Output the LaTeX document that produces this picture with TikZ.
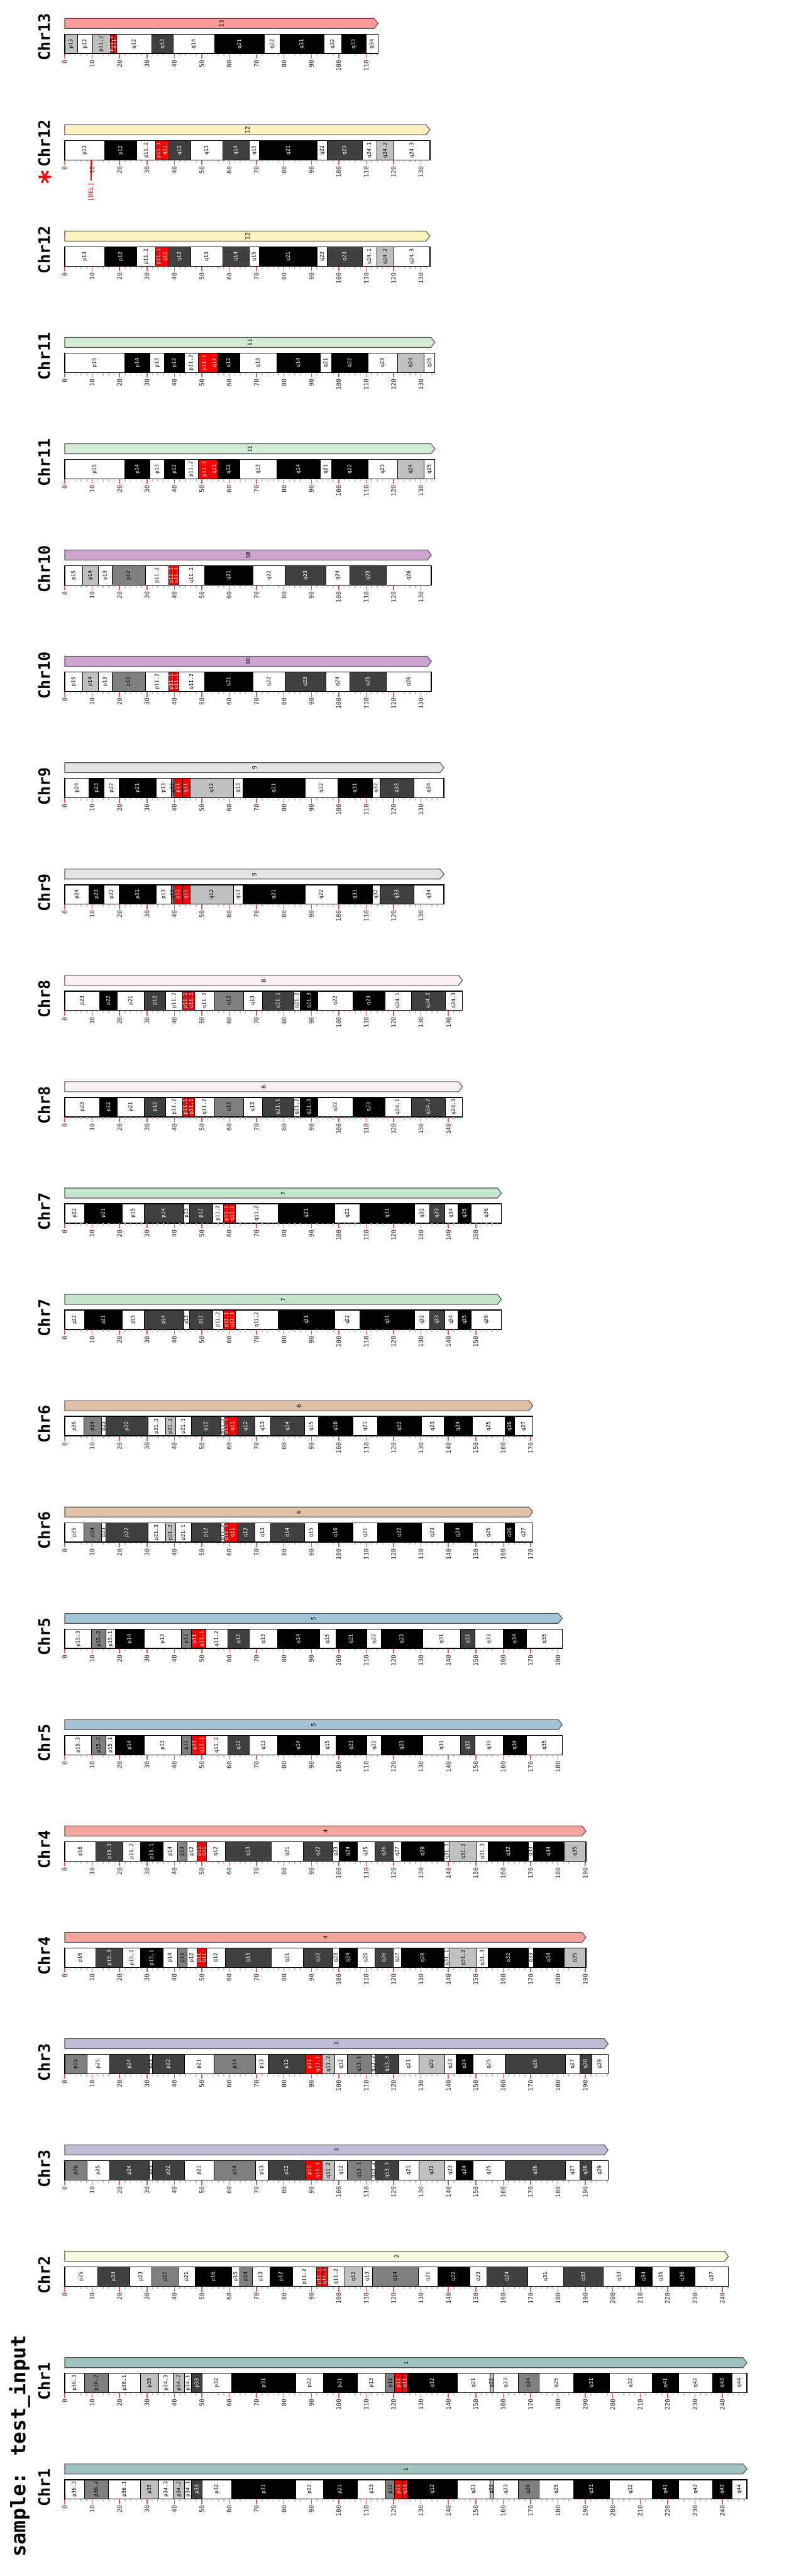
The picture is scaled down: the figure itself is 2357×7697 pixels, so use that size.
\documentclass[tikz,border=0pt]{standalone}
\usepackage{fontspec}
\setmainfont{DejaVu Sans Mono}
\definecolor{bw}{HTML}{FFFFFF}
\definecolor{bl}{HTML}{C0C0C0}
\definecolor{bg}{HTML}{808080}
\definecolor{bd}{HTML}{404040}
\definecolor{bk}{HTML}{000000}
\definecolor{br}{HTML}{FF0000}
\colorlet{tw}{black}\colorlet{tl}{black}\colorlet{tg}{black}
\colorlet{td}{white}\colorlet{tk}{white}\colorlet{tr}{white}
\definecolor{c1}{HTML}{9EC4BF}
\definecolor{c2}{HTML}{F9F9E0}
\definecolor{c3}{HTML}{BEBBD5}
\definecolor{c4}{HTML}{F4A49C}
\definecolor{c5}{HTML}{A5C3D7}
\definecolor{c6}{HTML}{E2C2A6}
\definecolor{c7}{HTML}{C3E5CC}
\definecolor{c8}{HTML}{FBF0F5}
\definecolor{c9}{HTML}{E3E3E3}
\definecolor{c10}{HTML}{CCA4CF}
\definecolor{c11}{HTML}{D5ECD6}
\definecolor{c12}{HTML}{FDF1BF}
\definecolor{c13}{HTML}{FA9A99}
\definecolor{baredge}{HTML}{505050}
\definecolor{tickgray}{HTML}{C4C4C4}
\definecolor{tickred}{HTML}{F05555}
\tikzset{
 barline/.style={draw=baredge, line width=1pt, line join=miter},
 barlab/.style={rotate=90, inner sep=0pt, font=\fontsize{8.5}{8.5}\selectfont},
 bandlab/.style={rotate=90, inner sep=0pt, font=\fontsize{7.75}{7.75}\selectfont},
 ticklab/.style={rotate=90, anchor=east, inner sep=0pt, font=\fontsize{9.25}{9.25}\selectfont, text=black!85},
 chrlab/.style={rotate=90, anchor=base west, inner sep=0pt, font=\bfseries\fontsize{23.5}{23.5}\selectfont},
 minortick/.style={draw=tickgray, line width=1.4pt},
 majortick/.style={draw=tickred, line width=1.4pt},
 bandsep/.style={draw=black, line width=0.8pt},
 boxline/.style={draw=black, line width=1.3pt},
}
\def\bandsI{0/7.1/w/p36.3,7.1/15.9/g/p36.2,15.9/27.6/w/p36.1,27.6/34.3/l/p35,34.3/39.6/w/p34.3,39.6/43.7/l/p34.2,43.7/46.3/w/p34.1,46.3/50.2/d/p33,50.2/60.8/w/p32,60.8/84.4/k/p31,84.4/94.3/w/p22,94.3/106.7/k/p21,106.7/117.2/w/p13,117.2/120.4/g/p12,120.4/123.4/r/p11,123.4/125.1/r/q11,125.1/143.2/k/q12,143.2/155.1/w/q21,155.1/156.6/l/q22,156.6/165.5/w/q23,165.5/173.0/g/q24,173.0/185.8/w/q25,185.8/198.7/k/q31,198.7/214.4/w/q32,214.4/224.1/k/q41,224.1/236.4/w/q42,236.4/243.5/k/q43,243.5/248.96/w/q44}
\def\bandsII{0/12.0/w/p25,12.0/23.8/d/p24,23.8/31.8/w/p23,31.8/41.5/g/p22,41.5/47.5/w/p21,47.5/61.0/k/p16,61.0/63.9/w/p15,63.9/68.4/g/p14,68.4/74.8/w/p13,74.8/83.1/k/p12,83.1/91.8/w/p11.2,91.8/93.9/r/p11.1,93.9/96.0/r/q11.1,96.0/102.1/w/q11.2,102.1/108.7/l/q12,108.7/112.2/w/q13,112.2/129.1/g/q14,129.1/136.1/w/q21,136.1/147.9/k/q22,147.9/154.0/w/q23,154.0/168.9/d/q24,168.9/182.1/w/q31,182.1/196.6/d/q32,196.6/208.2/w/q33,208.2/214.5/k/q34,214.5/220.7/w/q35,220.7/230.1/k/q36,230.1/242.19/w/q37}
\def\bandsIII{0/8.1/g/p26,8.1/16.3/w/p25,16.3/30.8/d/p24,30.8/32.0/w/p23,32.0/43.6/d/p22,43.6/54.4/w/p21,54.4/69.7/g/p14,69.7/74.1/w/p13,74.1/87.8/d/p12,87.8/90.9/r/p11,90.9/94.0/r/q11.1,94.0/98.6/l/q11.2,98.6/103.1/w/q12,103.1/111.8/g/q13.1,111.8/113.5/w/q13.2,113.5/121.9/d/q13.3,121.9/129.2/w/q21,129.2/138.7/l/q22,138.7/142.8/w/q23,142.8/148.9/k/q24,148.9/160.7/w/q25,160.7/182.7/d/q26,182.7/187.9/w/q27,187.9/192.3/d/q28,192.3/198.3/w/q29}
\def\bandsIV{0/11.3/w/p16,11.3/21.3/d/p15.3,21.3/27.7/w/p15.2,27.7/35.8/k/p15.1,35.8/41.2/w/p14,41.2/44.6/g/p13,44.6/48.2/w/p12,48.2/50.0/r/p11,50.0/51.8/r/q11,51.8/58.5/w/q12,58.5/75.3/d/q13,75.3/87.1/w/q21,87.1/97.9/d/q22,97.9/100.1/w/q23,100.1/106.7/k/q24,106.7/113.2/w/q25,113.2/119.9/d/q26,119.9/122.8/w/q27,122.8/138.5/k/q28,138.5/140.6/w/q31.1,140.6/150.3/l/q31.2,150.3/154.6/w/q31.3,154.6/169.2/k/q32,169.2/171.0/w/q33,171.0/182.3/k/q34,182.3/190.21/l/q35}
\def\bandsV{0/9.8/w/p15.3,9.8/15.0/g/p15.2,15.0/18.4/w/p15.1,18.4/28.9/k/p14,28.9/42.5/w/p13,42.5/46.1/g/p12,46.1/48.8/r/p11,48.8/51.4/r/q11.1,51.4/59.6/w/q11.2,59.6/67.4/d/q12,67.4/77.6/w/q13,77.6/93.0/k/q14,93.0/98.9/w/q15,98.9/110.2/k/q21,110.2/115.6/w/q22,115.6/130.6/k/q23,130.6/144.5/w/q31,144.5/149.8/d/q32,149.8/159.9/w/q33,159.9/168.5/k/q34,168.5/181.54/w/q35}
\def\bandsVI{0/7.0/w/p25,7.0/13.4/g/p24,13.4/15.1/w/p23,15.1/30.3/d/p22,30.3/36.7/w/p21.3,36.7/40.5/l/p21.2,40.5/46.1/w/p21.1,46.1/57.0/d/p12,57.0/58.4/w/p11.2,58.4/59.8/r/p11.1,59.8/62.9/r/q11,62.9/69.3/d/q12,69.3/75.2/w/q13,75.2/87.4/d/q14,87.4/92.6/w/q15,92.6/105.2/k/q16,105.2/114.2/w/q21,114.2/130.1/k/q22,130.1/138.4/w/q23,138.4/148.7/k/q24,148.7/160.7/w/q25,160.7/164.2/k/q26,164.2/170.81/w/q27}
\def\bandsVII{0/7.2/w/p22,7.2/21.0/k/p21,21.0/28.9/w/p15,28.9/43.4/d/p14,43.4/45.5/w/p13,45.5/53.9/d/p12,53.9/58.0/w/p11.2,58.0/60.1/r/p11.1,60.1/62.2/r/q11.1,62.2/77.9/w/q11.2,77.9/98.6/k/q21,98.6/107.8/w/q22,107.8/127.7/k/q31,127.7/133.1/w/q32,133.1/138.6/d/q33,138.6/143.5/w/q34,143.5/148.4/k/q35,148.4/159.35/w/q36}
\def\bandsVIII{0/12.8/w/p23,12.8/19.2/k/p22,19.2/29.0/w/p21,29.0/36.9/d/p12,36.9/43.0/w/p11.2,43.0/45.2/r/p11.1,45.2/47.4/r/q11.1,47.4/54.8/w/q11.2,54.8/65.2/g/q12,65.2/72.1/w/q13,72.1/83.6/d/q21.1,83.6/85.9/w/q21.2,85.9/92.4/k/q21.3,92.4/105.1/w/q22,105.1/116.8/k/q23,116.8/126.4/w/q24.1,126.4/138.9/d/q24.2,138.9/145.14/w/q24.3}
\def\bandsIX{0/8.9/w/p24,8.9/14.3/k/p23,14.3/19.8/w/p22,19.8/33.3/k/p21,33.3/38.9/w/p13,38.9/39.8/g/p12,39.8/42.9/r/p11,42.9/45.7/r/q11,45.7/61.6/l/q12,61.6/65.0/w/q13,65.0/87.7/k/q21,87.7/99.6/w/q22,99.6/112.2/k/q31,112.2/115.0/w/q32,115.0/127.5/d/q33,127.5/138.39/w/q34}
\def\bandsX{0/6.6/w/p15,6.6/12.2/l/p14,12.2/17.3/w/p13,17.3/29.4/g/p12,29.4/38.0/w/p11.2,38.0/39.9/r/p11.1,39.9/41.6/r/q11.1,41.6/51.0/w/q11.2,51.0/68.8/k/q21,68.8/80.4/w/q22,80.4/95.3/d/q23,95.3/104.0/w/q24,104.0/117.4/d/q25,117.4/133.8/w/q26}
\def\bandsXI{0/21.9/w/p15,21.9/31.1/k/p14,31.1/36.4/w/p13,36.4/43.6/k/p12,43.6/48.7/w/p11.2,48.7/53.4/r/p11.1,53.4/55.9/r/q11,55.9/63.8/k/q12,63.8/77.4/w/q13,77.4/93.2/k/q14,93.2/97.4/w/q21,97.4/110.7/k/q22,110.7/121.5/w/q23,121.5/131.1/l/q24,131.1/135.09/w/q25}
\def\bandsXII{0/14.6/w/p13,14.6/26.3/k/p12,26.3/33.2/w/p11.2,33.2/35.5/r/p11.1,35.5/37.8/r/q11,37.8/46.0/d/q12,46.0/57.7/w/q13,57.7/67.3/d/q14,67.3/71.0/w/q15,71.0/92.2/k/q21,92.2/95.8/w/q22,95.8/108.6/d/q23,108.6/113.8/w/q24.1,113.8/120.2/l/q24.2,120.2/133.28/w/q24.3}
\def\bandsXIII{0/4.7/l/p13,4.7/10.1/w/p12,10.1/16.5/l/p11.2,16.5/17.7/r/p11.1,17.7/19.0/r/q11,19.0/31.7/w/q12,31.7/39.6/d/q13,39.6/54.7/w/q14,54.7/72.9/k/q21,72.9/78.5/w/q22,78.5/94.6/k/q31,94.6/101.0/w/q32,101.0/109.9/k/q33,109.9/114.36/w/q34}
% #1 panel index, #2 length (Mb), #3 bar colour, #4 number, #5 band list, #6 last minor tick, #7 last major tick
\newcommand\chrpanel[7]{%
\pgfmathsetmacro\yz{55+317.7*#1}%
\pgfmathsetmacro\xe{193.6+8.19*#2}%
\draw[barline, fill=#3] (193.6,\yz) -- ({\xe-12},\yz) -- (\xe,\yz+15) -- ({\xe-12},\yz+30) -- (193.6,\yz+30) -- cycle;
\node[barlab] (bar#1) at ({(193.6+\xe)/2},\yz+16) {#4};
\foreach \bs/\be/\bc/\bt in #5 {
 \filldraw[bandsep, fill=b\bc] ({193.6+8.19*\bs},\yz+47) rectangle ({193.6+8.19*\be},\yz+105);
}
\draw[boxline] (193.6,\yz+47) rectangle (\xe,\yz+105);
\foreach \bs/\be/\bc/\bt [count=\bi] in #5 {
 \node[bandlab, text=t\bc] (b#1-\bi) at ({193.6+8.19*(\bs+\be)/2},\yz+76) {\bt};
}
\foreach \m in {0,2,...,#6} \draw[minortick] ({193.6+8.19*\m},\yz+106) -- ++(0,7);
\foreach \m in {0,10,...,#7} {\draw[majortick] ({193.6+8.19*\m},\yz+106) -- ++(0,14);
 \node[ticklab] (t#1-\m) at ({193.6+8.19*\m},\yz+124) {\m};}
\node[chrlab] (chr#1) at (149,\yz+127.5) {Chr#4};
}
\begin{document}
\begin{tikzpicture}[x=0.5pt,y=-0.5pt]
\fill[white] (0,0) rectangle (2357,7697);
\useasboundingbox (0,0) rectangle (2357,7697);
\chrpanel{0}{114.36}{c13}{13}{\bandsXIII}{114}{110}
\chrpanel{1}{133.28}{c12}{12}{\bandsXII}{132}{130}
\chrpanel{2}{133.28}{c12}{12}{\bandsXII}{132}{130}
\chrpanel{3}{135.09}{c11}{11}{\bandsXI}{134}{130}
\chrpanel{4}{135.09}{c11}{11}{\bandsXI}{134}{130}
\chrpanel{5}{133.80}{c10}{10}{\bandsX}{132}{130}
\chrpanel{6}{133.80}{c10}{10}{\bandsX}{132}{130}
\chrpanel{7}{138.39}{c9}{9}{\bandsIX}{138}{130}
\chrpanel{8}{138.39}{c9}{9}{\bandsIX}{138}{130}
\chrpanel{9}{145.14}{c8}{8}{\bandsVIII}{144}{140}
\chrpanel{10}{145.14}{c8}{8}{\bandsVIII}{144}{140}
\chrpanel{11}{159.35}{c7}{7}{\bandsVII}{158}{150}
\chrpanel{12}{159.35}{c7}{7}{\bandsVII}{158}{150}
\chrpanel{13}{170.81}{c6}{6}{\bandsVI}{170}{170}
\chrpanel{14}{170.81}{c6}{6}{\bandsVI}{170}{170}
\chrpanel{15}{181.54}{c5}{5}{\bandsV}{180}{180}
\chrpanel{16}{181.54}{c5}{5}{\bandsV}{180}{180}
\chrpanel{17}{190.21}{c4}{4}{\bandsIV}{190}{190}
\chrpanel{18}{190.21}{c4}{4}{\bandsIV}{190}{190}
\chrpanel{19}{198.30}{c3}{3}{\bandsIII}{198}{190}
\chrpanel{20}{198.30}{c3}{3}{\bandsIII}{198}{190}
\chrpanel{21}{242.19}{c2}{2}{\bandsII}{242}{240}
\chrpanel{22}{248.96}{c1}{1}{\bandsI}{248}{240}
\chrpanel{23}{248.96}{c1}{1}{\bandsI}{248}{240}
% deletion marker on the first Chr12 panel
\coordinate (delA) at ({193.6+8.19*9.6},{372.7+104});
\coordinate (delB) at ({193.6+8.19*9.6},{372.7+167});
\draw[red, line width=1.5pt] (delA) -- (delB);
\node[rotate=90, anchor=east, inner sep=0pt, text=red, font=\fontsize{9.25}{9.25}\selectfont] (deltext) at ({193.6+8.19*9.6},{372.7+173}) {[DEL]};
\node[rotate=90, anchor=base, inner sep=0pt, text=red, font=\bfseries\fontsize{40}{40}\selectfont] (star) at (176,{372.7+156}) {*};
\node[rotate=90, anchor=base west, inner sep=0pt, font=\bfseries\fontsize{30}{30}\selectfont] (title) at (76,7640) {sample: test\_input};
\end{tikzpicture}
\end{document}
